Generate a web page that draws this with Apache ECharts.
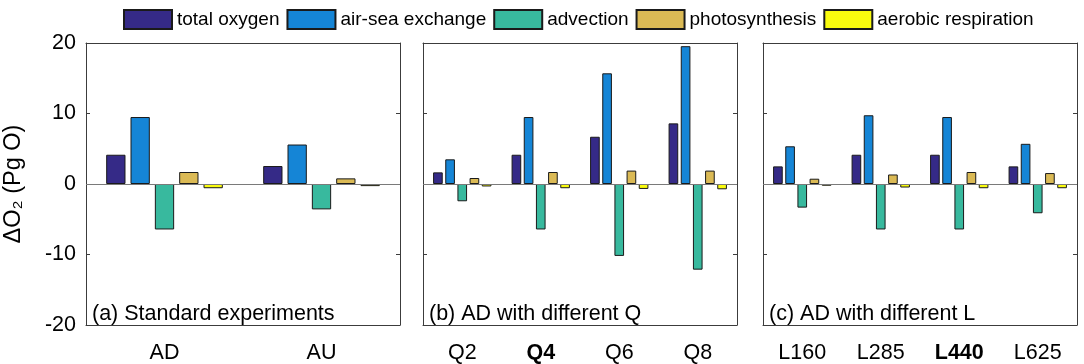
<!DOCTYPE html>
<html>
<head>
<meta charset="utf-8">
<script src="https://cdn.jsdelivr.net/npm/echarts@6/dist/echarts.min.js"></script>
<style>
  html, body { margin: 0; padding: 0; background: #fff; }
  #chart { width: 1084px; height: 364px; }
</style>
</head>
<body>
<div id="chart"></div>
<script>
// oxygen budget changes, three panels
var seriesNames = ['total oxygen', 'air-sea exchange', 'advection', 'photosynthesis', 'aerobic respiration'];
var colors = ['#352a87', '#1585d6', '#38b99e', '#dbba55', '#f9fb0e'];

var catsA = ['AD', 'AU'];
var catsB = ['Q2', 'Q4', 'Q6', 'Q8'];
var catsC = ['L160', 'L285', 'L440', 'L625'];
var boldCats = ['Q4', 'L440'];

var panelTitles = ['(a) Standard experiments', '(b) AD with different Q', '(c) AD with different L'];

// panel a
var totalA = [4.15, 2.55];
var airSeaA = [9.5, 5.6];
var advA = [-6.45, -3.6];
var photoA = [1.7, 0.8];
var respA = [-0.6, -0.3];

// panel b
var totalB = [1.65, 4.15, 6.7, 8.6];
var airSeaB = [3.5, 9.5, 15.7, 19.55];
var advB = [-2.45, -6.45, -10.2, -12.15];
var photoB = [0.85, 1.7, 1.9, 1.9];
var respB = [-0.35, -0.6, -0.7, -0.75];

// panel c
var totalC = [2.5, 4.15, 4.15, 2.5];
var airSeaC = [5.35, 9.75, 9.5, 5.7];
var advC = [-3.35, -6.45, -6.45, -4.15];
var photoC = [0.75, 1.35, 1.7, 1.55];
var respC = [-0.25, -0.5, -0.6, -0.6];

var yTicks = [-20, -10, 0, 10, 20];

var FONT = '"Liberation Sans", Arial, Helvetica, sans-serif';
var AXC = '#3c3c3c';

var panels = [
    { cats: catsA, data: [totalA, airSeaA, advA, photoA, respA], left: 86 },
    { cats: catsB, data: [totalB, airSeaB, advB, photoB, respB], left: 423 },
    { cats: catsC, data: [totalC, airSeaC, advC, photoC, respC], left: 763 }
];

var grids = [], xAxes = [], yAxes = [], series = [], titles = [];

panels.forEach(function (p, i) {
    grids.push({ left: p.left, top: 43, width: 314, height: 283 });

    var base = {
        type: 'category', data: p.cats, gridIndex: i,
        axisLine: { show: true, onZero: false, lineStyle: { color: AXC, width: 1 } },
        axisTick: { inside: true, alignWithLabel: true, length: 4, lineStyle: { color: AXC } },
        splitLine: { show: false }
    };
    xAxes.push(Object.assign({}, base, {
        position: 'bottom',
        axisLabel: {
            interval: 0,
            color: '#000', fontSize: 21.5, fontFamily: FONT, margin: 17,
            formatter: function (v) { return boldCats.indexOf(v) >= 0 ? '{b|' + v + '}' : v; },
            rich: { b: { fontWeight: 'bold', fontSize: 21.5, fontFamily: FONT, color: '#000' } }
        }
    }));
    xAxes.push(Object.assign({}, base, { position: 'top', axisLabel: { show: false } }));

    var yBase = {
        type: 'value', gridIndex: i, min: yTicks[0], max: yTicks[yTicks.length - 1], interval: 10,
        axisLine: { show: true, onZero: false, lineStyle: { color: AXC, width: 1 } },
        axisTick: { show: true, inside: true, length: 4, lineStyle: { color: AXC } },
        splitLine: { show: false }
    };
    var yLeft = Object.assign({}, yBase, {
        position: 'left',
        axisLabel: { show: i === 0, color: '#000', fontSize: 21.5, fontFamily: FONT, margin: 10 }
    });
    if (i === 0) {
        yLeft.name = 'ΔO₂ (Pg O)';
        yLeft.nameLocation = 'middle';
        yLeft.nameRotate = 90;
        yLeft.nameGap = 60;
        yLeft.nameTextStyle = { color: '#000', fontSize: 23.5, fontFamily: FONT };
    }
    yAxes.push(yLeft);
    yAxes.push(Object.assign({}, yBase, { position: 'right', axisLabel: { show: false } }));

    p.data.forEach(function (vals, k) {
        var s = {
            name: seriesNames[k], type: 'bar',
            xAxisIndex: i * 2, yAxisIndex: i * 2,
            data: vals,
            barWidth: '12.3%', barGap: '26%',
            itemStyle: { color: colors[k], borderColor: '#1a1a1a', borderWidth: 1 },
            emphasis: { disabled: true },
            animation: false
        };
        if (k === 0) {
            s.markLine = {
                silent: true, symbol: ['none', 'none'], animation: false,
                label: { show: false },
                lineStyle: { color: '#7a7a7a', type: 'solid', width: 1 },
                data: [{ yAxis: 0 }]
            };
        }
        series.push(s);
    });

    titles.push({
        text: panelTitles[i], left: p.left + 6, top: 303, padding: 0,
        textStyle: { color: '#000', fontSize: 21.5, fontWeight: 'normal', fontFamily: FONT }
    });
});

var chart = echarts.init(document.getElementById('chart'), null, { renderer: 'canvas' });
chart.setOption({
    animation: false,
    backgroundColor: '#fff',
    color: colors,
    title: titles,
    legend: {
        data: seriesNames, left: 118, top: 4,
        icon: 'rect', itemWidth: 48, itemHeight: 19, itemGap: 7,
        textStyle: { color: '#000', fontSize: 19, fontFamily: FONT }
    },
    grid: grids,
    xAxis: xAxes,
    yAxis: yAxes,
    series: series
});
</script>
</body>
</html>
